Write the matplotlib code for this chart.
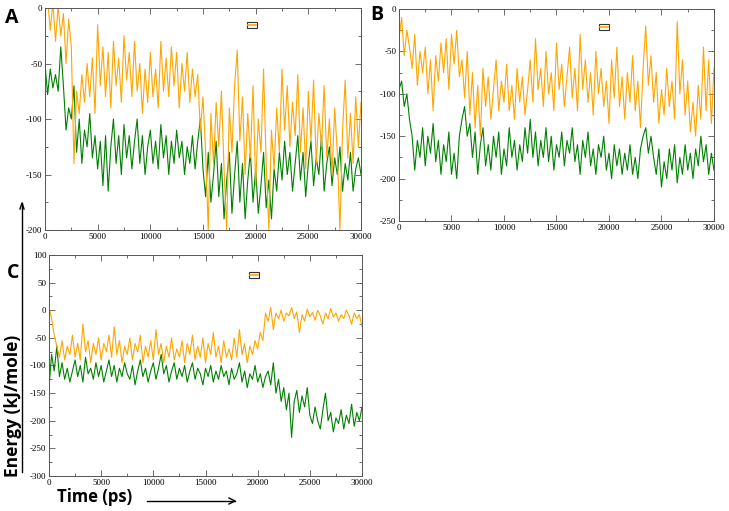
import numpy as np
import matplotlib
matplotlib.use("Agg")
import matplotlib.pyplot as plt
from matplotlib.lines import Line2D

plt.rcParams["axes.unicode_minus"] = False

# Energie vs tiempo, paneles A, B, C (muestreado cada 250 ps)
naranja_A = [-5, 8, -20, 5, -30, 2, -25, -5, -50, -10,
             -35, -140, -75, -95, -60, -85, -50, -80, -45, -95,
             -15, -70, -35, -80, -40, -90, -30, -70, -45, -85,
             -25, -65, -40, -80, -30, -75, -50, -95, -55, -85,
             -40, -80, -55, -90, -30, -75, -45, -80, -35, -70,
             -40, -90, -50, -75, -40, -85, -55, -80, -60, -110,
             -80, -130, -200, -95, -140, -85, -125, -75, -145, -200,
             -90, -130, -70, -38, -120, -80, -150, -95, -135, -70,
             -160, -100, -130, -55, -140, -200, -110, -145, -90, -130,
             -55, -110, -70, -125, -85, -115, -60, -130, -90, -145,
             -75, -120, -65, -140, -95, -125, -70, -135, -100, -150,
             -90, -130, -200, -110, -65, -135, -95, -140, -80, -125,
             -85]
verde_A = [-50, -78, -55, -72, -60, -75, -35, -70, -110, -90,
           -100, -70, -130, -100, -140, -110, -125, -95, -135, -115,
           -145, -120, -160, -115, -165, -125, -100, -140, -115, -150,
           -105, -135, -115, -145, -120, -100, -140, -115, -150, -125,
           -110, -140, -120, -145, -105, -135, -115, -150, -120, -140,
           -110, -135, -120, -150, -125, -140, -115, -145, -120, -100,
           -145, -170, -130, -175, -150, -120, -170, -140, -190, -155,
           -130, -185, -150, -120, -175, -140, -190, -155, -130, -175,
           -145, -185, -160, -130, -180, -155, -190, -145, -165, -130,
           -155, -120, -150, -130, -165, -140, -115, -155, -130, -170,
           -140, -120, -160, -135, -150, -115, -165, -140, -125, -160,
           -135, -150, -125, -165, -140, -155, -130, -165, -145, -135,
           -150]
naranja_B = [-35, -10, -55, -25, -45, -70, -30, -90, -50, -75,
             -45, -100, -60, -120, -55, -85, -40, -75, -35, -95,
             -30, -65, -25, -80, -60, -105, -50, -125, -75, -140,
             -90, -150, -70, -115, -80, -130, -95, -60, -120, -85,
             -110, -65, -120, -90, -130, -70, -110, -80, -125, -95,
             -60, -110, -35, -95, -70, -115, -50, -100, -75, -120,
             -40, -95, -65, -115, -80, -45, -105, -70, -120, -30,
             -95, -60, -110, -75, -125, -50, -100, -70, -115, -85,
             -135, -60, -105, -45, -115, -80, -130, -75, -110, -55,
             -120, -85, -140, -70, -20, -90, -55, -110, -75, -135,
             -95, -125, -70, -115, -85, -130, -15, -100, -60, -125,
             -85, -145, -110, -150, -90, -130, -45, -120, -60, -135,
             -70]
verde_B = [-95, -85, -115, -100, -130, -150, -190, -155, -175, -140,
           -185, -150, -170, -135, -180, -155, -195, -160, -180, -145,
           -195, -170, -200, -150, -130, -115, -150, -135, -175, -145,
           -195, -160, -140, -185, -160, -190, -150, -175, -145, -195,
           -165, -185, -140, -175, -155, -190, -160, -180, -140, -170,
           -130, -175, -145, -185, -155, -175, -140, -180, -150, -190,
           -160, -175, -145, -185, -155, -170, -140, -180, -160, -195,
           -155, -175, -145, -185, -165, -195, -160, -175, -150, -190,
           -170, -200, -160, -185, -165, -195, -170, -190, -160, -195,
           -175, -200, -165, -150, -140, -170, -150, -175, -195, -165,
           -210, -180, -200, -165, -190, -160, -205, -175, -195, -160,
           -190, -170, -200, -165, -185, -150, -180, -160, -195, -170,
           -190]
naranja_C = [5, -15, -45, -65, -85, -55, -90, -65, -80, -45,
             -85, -60, -90, -25, -75, -55, -95, -60, -80, -50,
             -90, -60, -75, -45, -85, -30, -80, -55, -95, -65,
             -80, -50, -90, -60, -75, -45, -95, -65, -85, -55,
             -90, -35, -80, -60, -95, -65, -85, -50, -90, -70,
             -85, -55, -95, -60, -80, -45, -90, -65, -85, -50,
             -95, -60, -80, -40, -85, -65, -95, -55, -85, -70,
             -90, -50, -85, -35, -80, -60, -95, -65, -80, -55,
             -70, -40, -55, -5, -20, 5, -35, -5, -15, 0,
             -20, -5, -10, 5, -15, -3, -40, -8, -20, 2,
             -12, -4, -18, 0, -10, -25, -5, -15, 3, -12,
             -5, -20, -8, -15, 0, -10, -25, -5, -15, -8,
             -30]
verde_C = [-140, -80, -110, -65, -120, -95, -125, -105, -130, -110,
           -90, -120, -100, -130, -85, -115, -105, -125, -95, -120,
           -100, -130, -110, -90, -120, -100, -130, -105, -120, -95,
           -115, -125, -100, -135, -110, -90, -120, -105, -130, -110,
           -95, -125, -105, -80, -115, -100, -130, -110, -95, -125,
           -105, -120, -100, -130, -110, -95, -125, -105, -115, -135,
           -105, -120, -100, -130, -110, -125, -100, -120, -110, -135,
           -105, -125, -115, -95, -130, -110, -140, -115, -125, -100,
           -130, -115, -140, -120, -110, -135, -95, -150, -125, -165,
           -140, -180, -150, -230, -165, -145, -185, -155, -175, -140,
           -190, -205, -175, -200, -215, -180, -150, -200, -185, -220,
           -195, -205, -180, -215, -190, -205, -170, -210, -185, -200,
           -175]

paneles = ["A", "B", "C"]
series = {"A": (naranja_A, verde_A), "B": (naranja_B, verde_B), "C": (naranja_C, verde_C)}
limites_y = {"A": (-200, 0), "B": (-250, 0), "C": (-300, 100)}
t_max = 30000

NARANJA = "#ffa500"
VERDE = "#008000"

fig = plt.figure(figsize=(7.29, 5.11), dpi=100)
posiciones = {"A": [0.0617, 0.5499, 0.4335, 0.4344],
              "B": [0.5473, 0.5675, 0.4321, 0.4149],
              "C": [0.0672, 0.0685, 0.4294, 0.4325]}
pos_leyenda = {"A": (0.655, 0.923), "B": (0.651, 0.915), "C": (0.655, 0.909)}

for p in paneles:
    ax = fig.add_axes(posiciones[p])
    nar, ver = series[p]
    t = np.linspace(0, t_max, len(nar))
    ax.plot(t, ver, color=VERDE, lw=0.8)
    ax.plot(t, nar, color=NARANJA, lw=0.8)
    ax.set_xlim(0, t_max)
    ax.set_ylim(*limites_y[p])
    ax.set_xticks(np.arange(0, t_max + 1, 5000))
    ax.set_xticks(np.arange(0, t_max + 1, 2500), minor=True)
    y0, y1 = limites_y[p]
    ax.set_yticks(np.arange(y0, y1 + 1, 50))
    ax.set_yticks(np.arange(y0, y1 + 1, 25), minor=True)
    ax.tick_params(which="both", direction="in", top=True, right=True,
                   labelsize=6.5, color="#555555", width=0.6, pad=2)
    ax.tick_params(which="major", length=4)
    ax.tick_params(which="minor", length=2)
    for lab in ax.get_xticklabels() + ax.get_yticklabels():
        lab.set_family("Liberation Serif")
    for s in ax.spines.values():
        s.set_color("#555555")
        s.set_linewidth(0.7)
    h = Line2D([], [], color=NARANJA, lw=1.2)
    leg = ax.legend([h], [""], loc="center", bbox_to_anchor=pos_leyenda[p],
                    handlelength=1.4, handletextpad=0, borderpad=0.15,
                    borderaxespad=0, fontsize=4, fancybox=False, framealpha=1)
    leg.get_frame().set_edgecolor("#333333")
    leg.get_frame().set_linewidth(0.8)

fig.text(12 / 729, 1 - 18 / 511, "A", fontsize=14, fontweight="bold",
         family="Open Sans", ha="center", va="center")
fig.text(377 / 729, 1 - 15 / 511, "B", fontsize=14, fontweight="bold",
         family="Open Sans", ha="center", va="center")
fig.text(13 / 729, 1 - 273 / 511, "C", fontsize=14, fontweight="bold",
         family="Open Sans", ha="center", va="center")

fig.text(13 / 729, 1 - 406 / 511, "Energy (kJ/mole)", fontsize=12.5,
         fontweight="bold", family="Open Sans", rotation=90,
         ha="center", va="center")
fig.text(95 / 729, 1 - 497 / 511, "Time (ps)", fontsize=12,
         fontweight="bold", family="Open Sans", ha="center", va="center")

fig.add_artist(plt.Line2D([22 / 729, 22 / 729], [1 - 472 / 511, 1 - 203 / 511],
                          color="black", lw=1))
fig.add_artist(plt.Line2D([20 / 729, 22 / 729, 24 / 729],
                          [1 - 209 / 511, 1 - 203 / 511, 1 - 209 / 511],
                          color="black", lw=1))
fig.add_artist(plt.Line2D([147 / 729, 235 / 729], [1 - 501 / 511, 1 - 501 / 511],
                          color="black", lw=1))
fig.add_artist(plt.Line2D([229 / 729, 235 / 729, 229 / 729],
                          [1 - 498 / 511, 1 - 501 / 511, 1 - 504 / 511],
                          color="black", lw=1))

fig.savefig("out.png", dpi=100)
